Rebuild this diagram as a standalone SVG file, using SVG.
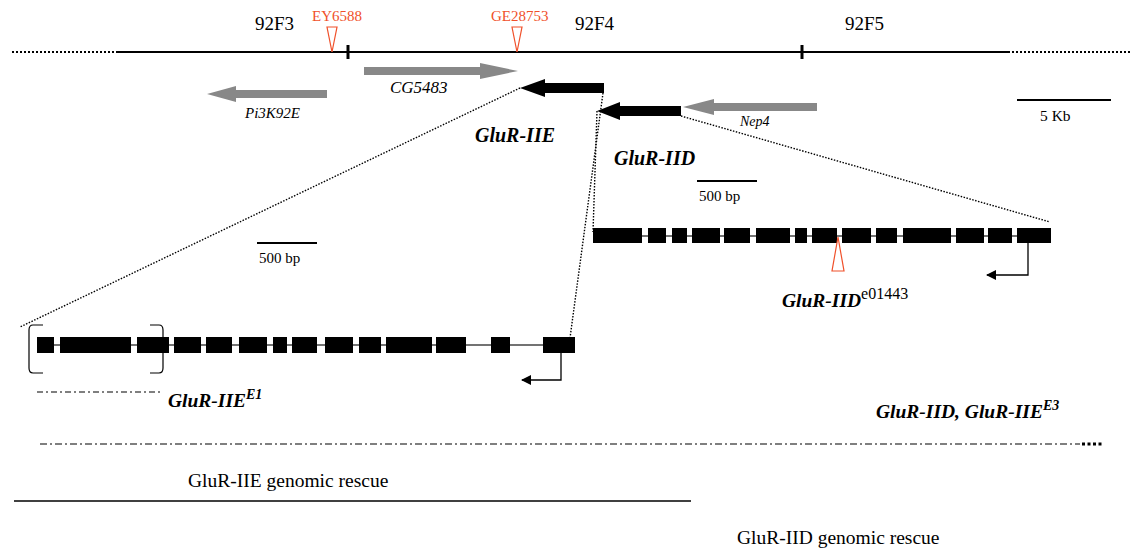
<svg xmlns="http://www.w3.org/2000/svg" width="1132" height="557" viewBox="0 0 1132 557">
<style>
text{font-family:"Liberation Serif","Times New Roman",serif;fill:#000}
.red{fill:#f0502a}
.it{font-style:italic}
.bi{font-style:italic;font-weight:bold}
.dot{stroke:#000;stroke-width:1.4;stroke-dasharray:1.5 1.5;fill:none}
.intron{stroke:#444;stroke-width:1.5}
.exon{fill:#000}
.gray{fill:#888}
.tri{fill:#fff;stroke:#f0502a;stroke-width:1.2}
</style>
<defs>
<marker id="ah" markerWidth="10" markerHeight="10" refX="9" refY="5" orient="auto" markerUnits="userSpaceOnUse">
<path d="M0,0 L10,5 L0,10 Z" fill="#000"/>
</marker>
</defs>
<rect width="1132" height="557" fill="#fff"/>

<g id="chromosome">
<line x1="12" y1="52" x2="118" y2="52" stroke="#000" stroke-width="2" stroke-dasharray="2 2"/>
<line x1="118" y1="52" x2="1008" y2="52" stroke="#000" stroke-width="2"/>
<line x1="1008" y1="52" x2="1132" y2="52" stroke="#000" stroke-width="2" stroke-dasharray="2 2"/>
<line x1="348" y1="45" x2="348" y2="59" stroke="#000" stroke-width="3"/>
<line x1="802" y1="45" x2="802" y2="59" stroke="#000" stroke-width="3"/>
<text x="255" y="30" font-size="19">92F3</text>
<text x="575" y="30" font-size="19">92F4</text>
<text x="845" y="30" font-size="19">92F5</text>
</g>

<g id="EY6588">
<text x="312" y="21" font-size="15" class="red">EY6588</text>
<polygon points="327,27 337,27 332,52" class="tri"/>
</g>
<g id="GE28753">
<text x="491" y="21" font-size="15" class="red">GE28753</text>
<polygon points="512,27 522,27 517,52" class="tri"/>
</g>

<g id="CG5483">
<polygon class="gray" points="364,67 480,67 480,63 518,71 480,79 480,75 364,75"/>
<text x="390" y="93" font-size="17" class="it">CG5483</text>
</g>
<g id="Pi3K92E">
<polygon class="gray" points="327,90 236,90 236,86 207,94 236,102 236,98 327,98"/>
<text x="245" y="118" font-size="15" class="it">Pi3K92E</text>
</g>
<g id="Nep4">
<polygon class="gray" points="817,103 714,103 714,99 683,107 714,115 714,111 817,111"/>
<text x="740" y="126" font-size="14" class="it">Nep4</text>
</g>

<g id="GluR-IIE-arrow">
<polygon points="604,83 545,83 545,79 520,88 545,97 545,93 604,93" fill="#000"/>
<text x="475" y="142" font-size="20" class="bi">GluR-IIE</text>
</g>
<g id="GluR-IID-arrow">
<polygon points="681,106 620,106 620,102 597,111 620,120 620,116 681,116" fill="#000"/>
<text x="614" y="165" font-size="20" class="bi">GluR-IID</text>
</g>

<g id="scale-5kb">
<line x1="1017" y1="100" x2="1111" y2="100" stroke="#000" stroke-width="2"/>
<text x="1040" y="121" font-size="15.5">5 Kb</text>
</g>
<g id="scale-500bp-left">
<line x1="257" y1="243" x2="317" y2="243" stroke="#000" stroke-width="2"/>
<text x="259" y="263" font-size="15">500 bp</text>
</g>
<g id="scale-500bp-right">
<line x1="697" y1="181" x2="757" y2="181" stroke="#000" stroke-width="2"/>
<text x="699" y="201" font-size="15">500 bp</text>
</g>

<g id="connectors">
<line class="dot" x1="520" y1="88" x2="20" y2="327"/>
<line class="dot" x1="603" y1="93" x2="570" y2="338"/>
<line class="dot" x1="597" y1="111" x2="593" y2="232"/>
<line class="dot" x1="681" y1="116" x2="1050" y2="222"/>
</g>

<g id="GluR-IIE-gene">
<line class="intron" x1="37" y1="345" x2="575" y2="345"/>
<rect class="exon" x="37" y="337" width="17" height="16"/>
<rect class="exon" x="60" y="337" width="71" height="16"/>
<rect class="exon" x="137" y="337" width="32" height="16"/>
<rect class="exon" x="174" y="337" width="27" height="16"/>
<rect class="exon" x="206" y="337" width="26" height="16"/>
<rect class="exon" x="239" y="337" width="28" height="16"/>
<rect class="exon" x="273" y="337" width="14" height="16"/>
<rect class="exon" x="292" y="337" width="25" height="16"/>
<rect class="exon" x="325" y="337" width="28" height="16"/>
<rect class="exon" x="359" y="337" width="22" height="16"/>
<rect class="exon" x="386" y="337" width="46" height="16"/>
<rect class="exon" x="436" y="337" width="30" height="16"/>
<rect class="exon" x="491" y="337" width="19" height="16"/>
<rect class="exon" x="543" y="337" width="32" height="16"/>
<path d="M43,325 L33,325 Q29,325 29,330 L29,368 Q29,373 33,373 L43,373" fill="none" stroke="#000" stroke-width="1.2"/>
<path d="M150,325 L159,325 Q163,325 163,330 L163,368 Q163,373 159,373 L150,373" fill="none" stroke="#000" stroke-width="1.2"/>
<polyline points="561,353 561,380 522,380" fill="none" stroke="#000" stroke-width="1.3" marker-end="url(#ah)"/>
</g>

<g id="GluR-IIE-E1">
<line x1="37" y1="392" x2="160" y2="392" stroke="#000" stroke-width="1.2" stroke-dasharray="6 3 2 3"/>
<text x="168" y="407" font-size="19.5" class="bi">GluR-IIE<tspan font-size="14" dy="-8">E1</tspan></text>
</g>

<g id="GluR-IID-gene">
<line class="intron" x1="593" y1="236" x2="1051" y2="236"/>
<rect class="exon" x="593" y="228" width="49" height="15"/>
<rect class="exon" x="648" y="228" width="18" height="15"/>
<rect class="exon" x="672" y="228" width="15" height="15"/>
<rect class="exon" x="692" y="228" width="28" height="15"/>
<rect class="exon" x="724" y="228" width="26" height="15"/>
<rect class="exon" x="756" y="228" width="34" height="15"/>
<rect class="exon" x="795" y="228" width="12" height="15"/>
<rect class="exon" x="812" y="228" width="25" height="15"/>
<rect class="exon" x="842" y="228" width="29" height="15"/>
<rect class="exon" x="876" y="228" width="21" height="15"/>
<rect class="exon" x="903" y="228" width="48" height="15"/>
<rect class="exon" x="956" y="228" width="28" height="15"/>
<rect class="exon" x="988" y="228" width="24" height="15"/>
<rect class="exon" x="1017" y="228" width="34" height="15"/>
<polyline points="1028,243 1028,275 987,275" fill="none" stroke="#000" stroke-width="1.3" marker-end="url(#ah)"/>
</g>

<g id="e01443">
<polygon points="838,237 832,271 844,271" class="tri"/>
<text x="782" y="307" font-size="19.5"><tspan class="bi">GluR-IID</tspan><tspan font-size="16" dy="-8">e01443</tspan></text>
</g>

<g id="GluR-IID-IIE-E3">
<text x="876" y="418" font-size="19.5" class="bi">GluR-IID, GluR-IIE<tspan font-size="14" dy="-8">E3</tspan></text>
<line x1="40" y1="444" x2="1080" y2="444" stroke="#000" stroke-width="1.2" stroke-dasharray="7 3 2 3"/>
<line x1="1082" y1="444" x2="1104" y2="444" stroke="#000" stroke-width="3" stroke-dasharray="3 2.5"/>
</g>

<g id="GluR-IIE-rescue">
<text x="188" y="487" font-size="19.5">GluR-IIE genomic rescue</text>
<line x1="14" y1="501" x2="691" y2="501" stroke="#000" stroke-width="1.5"/>
</g>
<g id="GluR-IID-rescue">
<text x="737" y="544" font-size="19.5">GluR-IID genomic rescue</text>
</g>
</svg>
